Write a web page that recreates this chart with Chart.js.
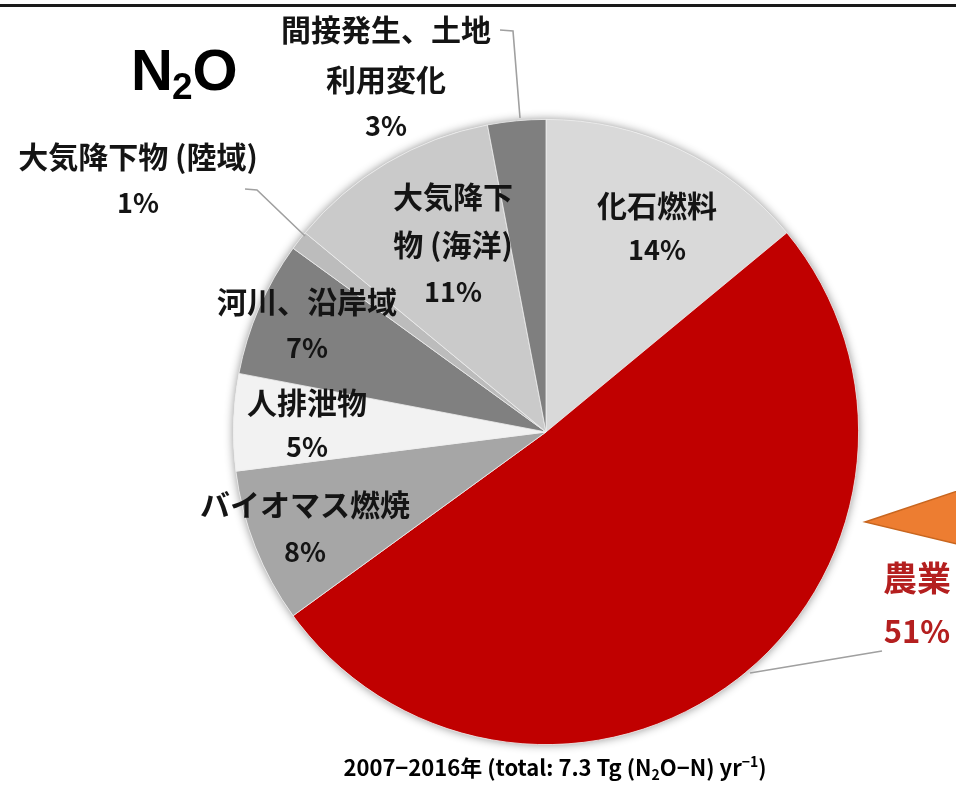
<!DOCTYPE html>
<html lang="ja">
<head>
<meta charset="utf-8">
<title>N2O 排出源</title>
<script src="https://cdn.jsdelivr.net/npm/chart.js@4.4.1/dist/chart.umd.min.js"></script>
<style>
  html, body { margin: 0; padding: 0; background: #ffffff; }
  #wrap { width: 956px; height: 790px; }
</style>
</head>
<body>
<div id="wrap"><canvas id="c" width="956" height="790"></canvas></div>
<script>
// N2O sources, 2007–2016, share of total emissions (%)
const categories = ['化石燃料', '農業', 'バイオマス燃焼', '人排泄物', '河川、沿岸域', '大気降下物 (陸域)', '大気降下物 (海洋)', '間接発生、土地利用変化'];
const shares = [14, 51, 8, 5, 7, 1, 11, 3];
// how each category name is broken into lines on the chart
const labelLines = [['化石燃料'], ['農業'], ['バイオマス燃焼'], ['人排泄物'], ['河川、沿岸域'], ['大気降下物 (陸域)'], ['大気降下', '物 (海洋)'], ['間接発生、土地', '利用変化']];
const sliceColors = ['#d9d9d9', '#c00000', '#a6a6a6', '#f2f2f2', '#808080', '#bcbcbc', '#cacaca', '#7f7f7f'];

const JP = '"Noto Sans CJK JP", "Noto Sans", sans-serif';

// label placement: centre x, y of each name line, y of the percentage
const labelLayout = [
  { x: 657, ys: [206], py: 250 },
  { x: 917, ys: [578], py: 631, color: '#b41f1f', size: 34, psize: 31 },
  { x: 305, ys: [505], py: 552 },
  { x: 307, ys: [403], py: 447 },
  { x: 307, ys: [302], py: 348 },
  { x: 138, ys: [157], py: 203 },
  { x: 453, ys: [197, 245], py: 292 },
  { x: 386, ys: [30, 80], py: 126 }
];
// leader lines for labels set outside their slice
const leaders = {
  7: [[500, 30], [513, 31], [520, 118]],
  5: [[245, 189], [257, 190], [305, 236]],
  1: [[750, 673], [882, 651]]
};

const decor = {
  id: 'decor',
  beforeDatasetsDraw(chart) {
    // soft halo under the whole pie
    const arc = chart.getDatasetMeta(0).data[0];
    const ctx = chart.ctx;
    ctx.save();
    ctx.shadowColor = 'rgba(0,0,0,0.45)';
    ctx.shadowBlur = 10;
    ctx.fillStyle = '#ffffff';
    ctx.beginPath();
    ctx.arc(arc.x, arc.y, arc.outerRadius, 0, Math.PI * 2);
    ctx.fill();
    ctx.restore();
  },
  afterDatasetsDraw(chart) {
    const ctx = chart.ctx;
    const data = chart.data.datasets[0].data;
    ctx.save();

    // frame line across the top
    ctx.fillStyle = '#1a1a1a';
    ctx.fillRect(0, 4, 956, 3);

    // leader lines
    ctx.strokeStyle = '#a0a0a0';
    ctx.lineWidth = 1.6;
    Object.keys(leaders).forEach(k => {
      const pts = leaders[k];
      ctx.beginPath();
      ctx.moveTo(pts[0][0], pts[0][1]);
      pts.slice(1).forEach(p => ctx.lineTo(p[0], p[1]));
      ctx.stroke();
    });

    // slice labels: name + share
    ctx.textAlign = 'center';
    ctx.textBaseline = 'middle';
    labelLines.forEach((lines, i) => {
      const L = labelLayout[i];
      ctx.fillStyle = L.color || '#141414';
      ctx.font = 'bold ' + (L.size || 30) + 'px ' + JP;
      lines.forEach((t, j) => ctx.fillText(t, L.x, L.ys[j]));
      ctx.font = 'bold ' + (L.psize || 27) + 'px ' + JP;
      ctx.fillText(data[i] + '%', L.x, L.py);
    });

    // orange pointer at the right edge
    ctx.fillStyle = '#ed7d31';
    ctx.strokeStyle = '#c8661f';
    ctx.lineWidth = 1.5;
    ctx.beginPath();
    ctx.moveTo(865, 522);
    ctx.lineTo(990, 480);
    ctx.lineTo(990, 552);
    ctx.closePath();
    ctx.fill();
    ctx.stroke();

    // N2O heading
    ctx.fillStyle = '#000000';
    ctx.textAlign = 'left';
    ctx.textBaseline = 'alphabetic';
    ctx.font = 'bold 58px "Liberation Sans", Arial, sans-serif';
    ctx.fillText('N', 131, 90);
    let x = 131 + ctx.measureText('N').width;
    ctx.font = 'bold 37px "Liberation Sans", Arial, sans-serif';
    ctx.fillText('2', x - 1, 99);
    x += ctx.measureText('2').width - 1;
    ctx.font = 'bold 58px "Liberation Sans", Arial, sans-serif';
    ctx.fillText('O', x, 90);

    // period / total caption with sub- and superscripts
    const parts = [
      { t: '2007−2016年 (total: 7.3 Tg (N', s: 22, dy: 0 },
      { t: '2', s: 14, dy: 4 },
      { t: 'O−N) yr', s: 22, dy: 0 },
      { t: '−1', s: 14, dy: -9 },
      { t: ')', s: 22, dy: 0 }
    ];
    let w = 0;
    parts.forEach(p => { ctx.font = 'bold ' + p.s + 'px ' + JP; p.w = ctx.measureText(p.t).width; w += p.w; });
    let cx = 555 - w / 2;
    ctx.fillStyle = '#000000';
    parts.forEach(p => {
      ctx.font = 'bold ' + p.s + 'px ' + JP;
      ctx.fillText(p.t, cx, 776 + p.dy);
      cx += p.w;
    });
    ctx.restore();
  }
};

new Chart(document.getElementById('c'), {
  type: 'pie',
  data: {
    labels: categories,
    datasets: [{
      data: shares,
      backgroundColor: sliceColors,
      borderColor: '#eeeeee',
      borderWidth: 0.8
    }]
  },
  options: {
    responsive: false,
    animation: false,
    layout: { padding: { left: 233, right: 97, top: 119, bottom: 45 } },
    plugins: { legend: { display: false }, tooltip: { enabled: false } }
  },
  plugins: [decor]
});
</script>
</body>
</html>
